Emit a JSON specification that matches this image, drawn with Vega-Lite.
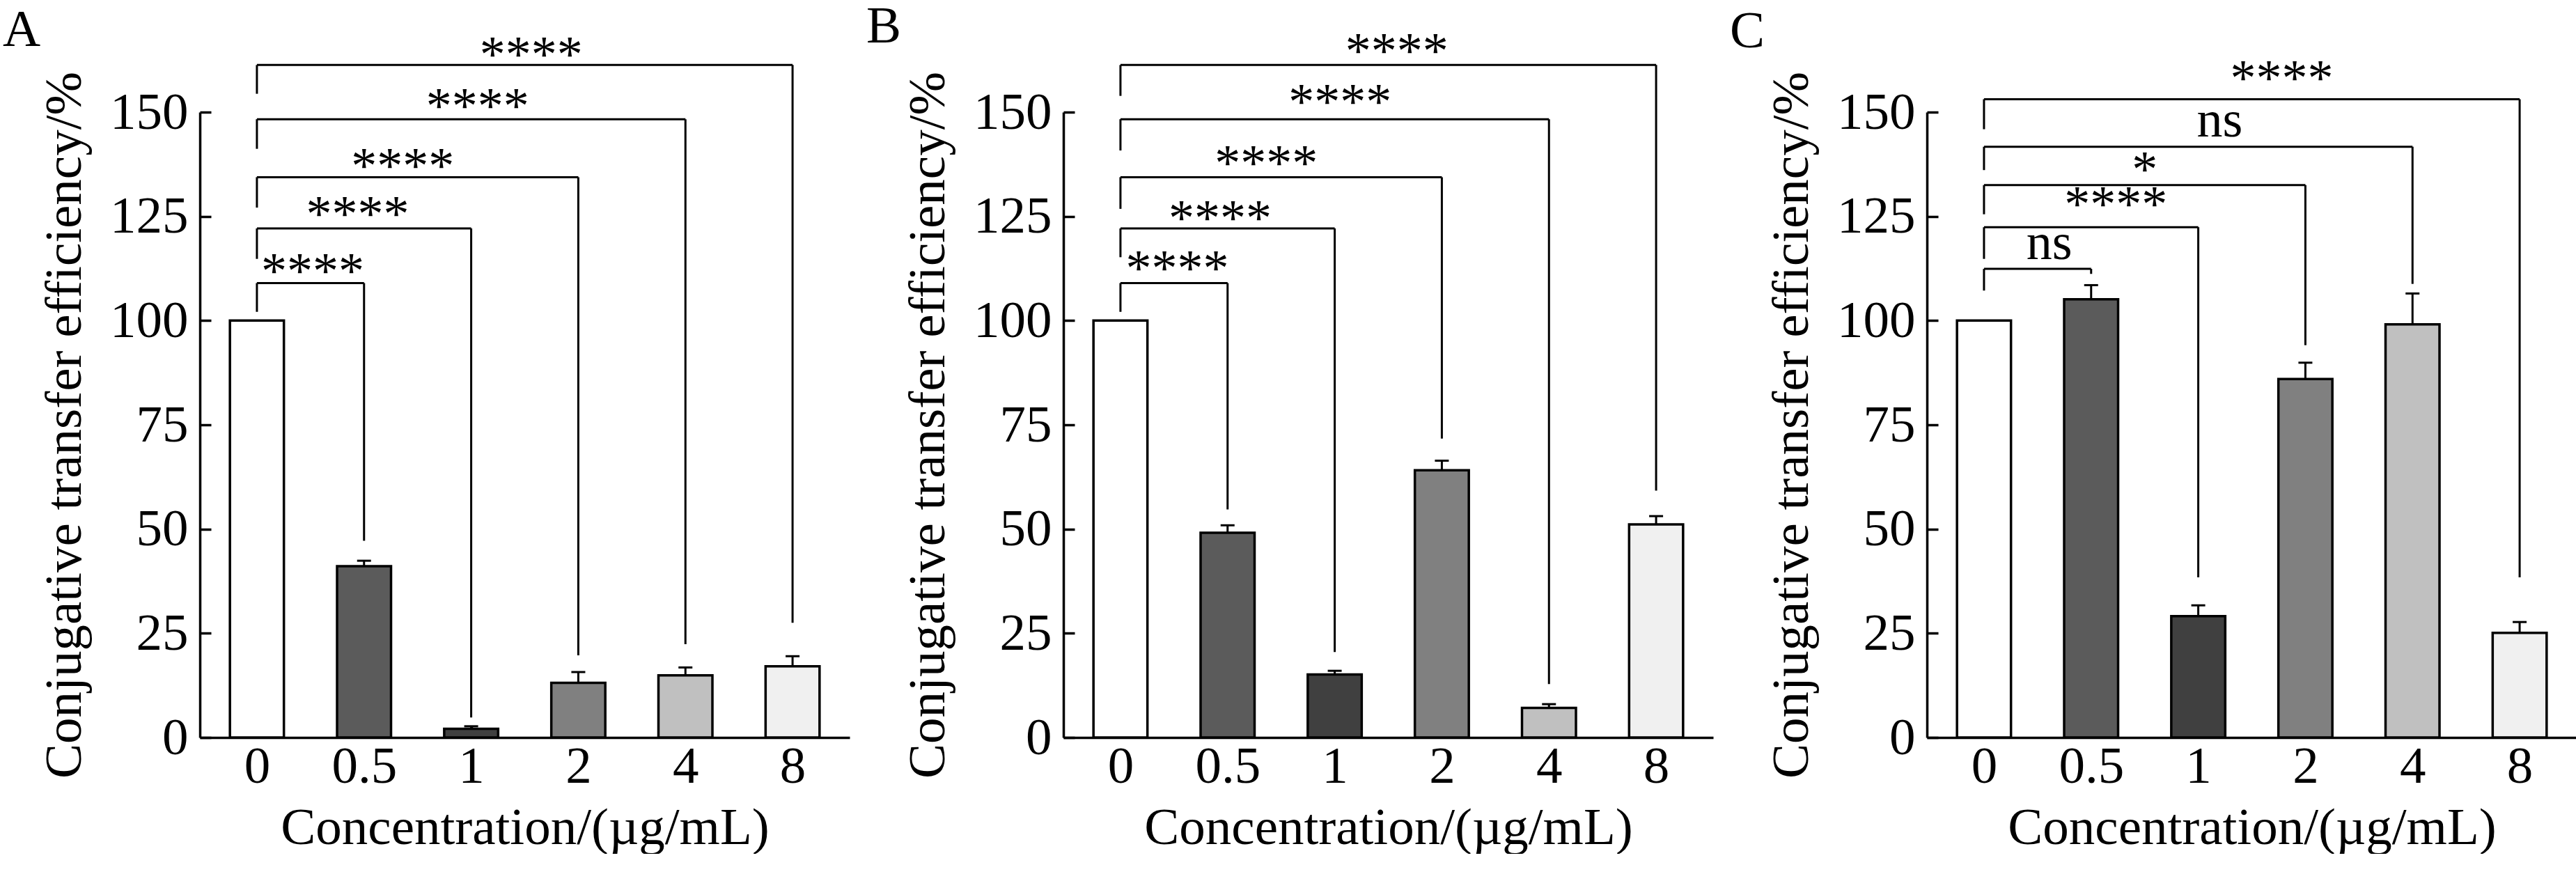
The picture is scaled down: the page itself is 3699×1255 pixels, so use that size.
{
  "$schema": "https://vega.github.io/schema/vega-lite/v6.json",
  "background": "white",
  "padding": {"left": 4, "top": 0, "right": 0, "bottom": 0},
  "spacing": 24,
  "datasets": {
    "barsA": [
      {"idx": 0, "conc": "0", "mean": 100, "upper": 100},
      {"idx": 1, "conc": "0.5", "mean": 41.1, "upper": 42.4},
      {"idx": 2, "conc": "1", "mean": 2.1, "upper": 2.7},
      {"idx": 3, "conc": "2", "mean": 13.1, "upper": 15.7},
      {"idx": 4, "conc": "4", "mean": 14.9, "upper": 16.8},
      {"idx": 5, "conc": "8", "mean": 17.1, "upper": 19.5}
    ],
    "barsB": [
      {"idx": 0, "conc": "0", "mean": 100, "upper": 100},
      {"idx": 1, "conc": "0.5", "mean": 49.1, "upper": 50.9},
      {"idx": 2, "conc": "1", "mean": 15.1, "upper": 16.0},
      {"idx": 3, "conc": "2", "mean": 64.1, "upper": 66.4},
      {"idx": 4, "conc": "4", "mean": 7.1, "upper": 8.0},
      {"idx": 5, "conc": "8", "mean": 51.1, "upper": 53.1}
    ],
    "barsC": [
      {"idx": 0, "conc": "0", "mean": 100, "upper": 100},
      {"idx": 1, "conc": "0.5", "mean": 105.1, "upper": 108.5},
      {"idx": 2, "conc": "1", "mean": 29.1, "upper": 31.7},
      {"idx": 3, "conc": "2", "mean": 86.0, "upper": 89.9},
      {"idx": 4, "conc": "4", "mean": 99.1, "upper": 106.5},
      {"idx": 5, "conc": "8", "mean": 25.1, "upper": 27.7}
    ],
    "brkA": [
      {"from": 0, "to": 1, "top": 109.0, "leftBot": 102.1, "rightBot": 47.2, "labelX": 0.52, "labelY": 107.7, "label": "****"},
      {"from": 0, "to": 2, "top": 122.1, "leftBot": 114.8, "rightBot": 4.8, "labelX": 0.94, "labelY": 121.4, "label": "****"},
      {"from": 0, "to": 3, "top": 134.4, "leftBot": 127.1, "rightBot": 19.7, "labelX": 1.36, "labelY": 133.0, "label": "****"},
      {"from": 0, "to": 4, "top": 148.3, "leftBot": 141.2, "rightBot": 22.4, "labelX": 2.06, "labelY": 147.3, "label": "****"},
      {"from": 0, "to": 5, "top": 161.3, "leftBot": 154.4, "rightBot": 27.5, "labelX": 2.56, "labelY": 159.7, "label": "****"}
    ],
    "brkB": [
      {"from": 0, "to": 1, "top": 109.0, "leftBot": 102.1, "rightBot": 54.7, "labelX": 0.53, "labelY": 108.4, "label": "****"},
      {"from": 0, "to": 2, "top": 122.1, "leftBot": 115.2, "rightBot": 20.5, "labelX": 0.93, "labelY": 120.4, "label": "****"},
      {"from": 0, "to": 3, "top": 134.4, "leftBot": 126.8, "rightBot": 71.7, "labelX": 1.36, "labelY": 133.7, "label": "****"},
      {"from": 0, "to": 4, "top": 148.3, "leftBot": 140.8, "rightBot": 12.8, "labelX": 2.05, "labelY": 148.4, "label": "****"},
      {"from": 0, "to": 5, "top": 161.3, "leftBot": 153.9, "rightBot": 59.2, "labelX": 2.58, "labelY": 160.6, "label": "****"}
    ],
    "brkC": [
      {"from": 0, "to": 1, "top": 112.4, "leftBot": 107.2, "rightBot": 111.2, "labelX": 0.61, "labelY": 114.7, "label": "ns"},
      {"from": 0, "to": 2, "top": 122.4, "leftBot": 114.8, "rightBot": 38.4, "labelX": 1.23, "labelY": 123.7, "label": "****"},
      {"from": 0, "to": 3, "top": 132.5, "leftBot": 125.5, "rightBot": 94.1, "labelX": 1.50, "labelY": 132.1, "label": "*"},
      {"from": 0, "to": 4, "top": 141.7, "leftBot": 136.1, "rightBot": 108.8, "labelX": 2.20, "labelY": 144.1, "label": "ns"},
      {"from": 0, "to": 5, "top": 153.1, "leftBot": 145.9, "rightBot": 38.4, "labelX": 2.78, "labelY": 154.0, "label": "****"}
    ]
  },
  "hconcat": [
    {
      "width": 933,
      "height": 898,
      "title": {"text": "A", "dx": -283, "offset": -38},
      "layer": [
        {
          "data": {"name": "barsA"},
          "mark": {"type": "bar", "width": 77.5, "stroke": "black", "strokeWidth": 3.5},
          "encoding": {
            "x": {"field": "idx", "type": "quantitative", "scale": {"domain": [-0.5, 5.5], "nice": false, "zero": false},
                  "axis": {"values": [0, 1, 2, 3, 4, 5], "labelExpr": "['0','0.5','1','2','4','8'][datum.value]", "title": "Concentration/(µg/mL)"}},
            "y": {"field": "mean", "type": "quantitative", "scale": {"domain": [0, 150], "nice": false},
                  "axis": {"values": [0, 25, 50, 75, 100, 125, 150], "title": "Conjugative transfer efficiency/%"}},
            "color": {"field": "conc", "type": "nominal", "legend": null,
                      "scale": {"domain": ["0", "0.5", "1", "2", "4", "8"], "range": ["#ffffff", "#5b5b5b", "#404040", "#808080", "#c0c0c0", "#f0f0f0"]}}
          }
        },
        {
          "data": {"name": "barsA"},
          "transform": [{"filter": "datum.upper > datum.mean"}],
          "mark": {"type": "rule", "color": "black", "strokeWidth": 3},
          "encoding": {
            "x": {"field": "idx", "type": "quantitative"},
            "y": {"field": "mean", "type": "quantitative"},
            "y2": {"field": "upper"}
          }
        },
        {
          "data": {"name": "barsA"},
          "transform": [{"filter": "datum.upper > datum.mean"}],
          "mark": {"type": "tick", "orient": "horizontal", "color": "black", "size": 20, "thickness": 3, "opacity": 1},
          "encoding": {
            "x": {"field": "idx", "type": "quantitative"},
            "y": {"field": "upper", "type": "quantitative"}
          }
        },
        {
          "data": {"name": "brkA"},
          "mark": {"type": "rule", "color": "black", "strokeWidth": 3},
          "encoding": {
            "x": {"field": "from", "type": "quantitative"},
            "x2": {"field": "to"},
            "y": {"field": "top", "type": "quantitative"}
          }
        },
        {
          "data": {"name": "brkA"},
          "mark": {"type": "rule", "color": "black", "strokeWidth": 3},
          "encoding": {
            "x": {"field": "from", "type": "quantitative"},
            "y": {"field": "leftBot", "type": "quantitative"},
            "y2": {"field": "top"}
          }
        },
        {
          "data": {"name": "brkA"},
          "mark": {"type": "rule", "color": "black", "strokeWidth": 3},
          "encoding": {
            "x": {"field": "to", "type": "quantitative"},
            "y": {"field": "rightBot", "type": "quantitative"},
            "y2": {"field": "top"}
          }
        },
        {
          "data": {"name": "brkA"},
          "mark": {"type": "text", "font": "Liberation Serif", "fontSize": 74, "color": "black", "baseline": "alphabetic", "align": "center"},
          "encoding": {
            "x": {"field": "labelX", "type": "quantitative"},
            "y": {"field": "labelY", "type": "quantitative"},
            "text": {"field": "label"}
          }
        }
      ]
    },
    {
      "width": 933,
      "height": 898,
      "title": {"text": "B", "dx": -283, "offset": -38},
      "layer": [
        {
          "data": {"name": "barsB"},
          "mark": {"type": "bar", "width": 77.5, "stroke": "black", "strokeWidth": 3.5},
          "encoding": {
            "x": {"field": "idx", "type": "quantitative", "scale": {"domain": [-0.5, 5.5], "nice": false, "zero": false},
                  "axis": {"values": [0, 1, 2, 3, 4, 5], "labelExpr": "['0','0.5','1','2','4','8'][datum.value]", "title": "Concentration/(µg/mL)"}},
            "y": {"field": "mean", "type": "quantitative", "scale": {"domain": [0, 150], "nice": false},
                  "axis": {"values": [0, 25, 50, 75, 100, 125, 150], "title": "Conjugative transfer efficiency/%"}},
            "color": {"field": "conc", "type": "nominal", "legend": null,
                      "scale": {"domain": ["0", "0.5", "1", "2", "4", "8"], "range": ["#ffffff", "#5b5b5b", "#404040", "#808080", "#c0c0c0", "#f0f0f0"]}}
          }
        },
        {
          "data": {"name": "barsB"},
          "transform": [{"filter": "datum.upper > datum.mean"}],
          "mark": {"type": "rule", "color": "black", "strokeWidth": 3},
          "encoding": {
            "x": {"field": "idx", "type": "quantitative"},
            "y": {"field": "mean", "type": "quantitative"},
            "y2": {"field": "upper"}
          }
        },
        {
          "data": {"name": "barsB"},
          "transform": [{"filter": "datum.upper > datum.mean"}],
          "mark": {"type": "tick", "orient": "horizontal", "color": "black", "size": 20, "thickness": 3, "opacity": 1},
          "encoding": {
            "x": {"field": "idx", "type": "quantitative"},
            "y": {"field": "upper", "type": "quantitative"}
          }
        },
        {
          "data": {"name": "brkB"},
          "mark": {"type": "rule", "color": "black", "strokeWidth": 3},
          "encoding": {
            "x": {"field": "from", "type": "quantitative"},
            "x2": {"field": "to"},
            "y": {"field": "top", "type": "quantitative"}
          }
        },
        {
          "data": {"name": "brkB"},
          "mark": {"type": "rule", "color": "black", "strokeWidth": 3},
          "encoding": {
            "x": {"field": "from", "type": "quantitative"},
            "y": {"field": "leftBot", "type": "quantitative"},
            "y2": {"field": "top"}
          }
        },
        {
          "data": {"name": "brkB"},
          "mark": {"type": "rule", "color": "black", "strokeWidth": 3},
          "encoding": {
            "x": {"field": "to", "type": "quantitative"},
            "y": {"field": "rightBot", "type": "quantitative"},
            "y2": {"field": "top"}
          }
        },
        {
          "data": {"name": "brkB"},
          "mark": {"type": "text", "font": "Liberation Serif", "fontSize": 74, "color": "black", "baseline": "alphabetic", "align": "center"},
          "encoding": {
            "x": {"field": "labelX", "type": "quantitative"},
            "y": {"field": "labelY", "type": "quantitative"},
            "text": {"field": "label"}
          }
        }
      ]
    },
    {
      "width": 933,
      "height": 898,
      "title": {"text": "C", "dx": -283, "offset": -6},
      "layer": [
        {
          "data": {"name": "barsC"},
          "mark": {"type": "bar", "width": 77.5, "stroke": "black", "strokeWidth": 3.5},
          "encoding": {
            "x": {"field": "idx", "type": "quantitative", "scale": {"domain": [-0.5, 5.5], "nice": false, "zero": false},
                  "axis": {"values": [0, 1, 2, 3, 4, 5], "labelExpr": "['0','0.5','1','2','4','8'][datum.value]", "title": "Concentration/(µg/mL)"}},
            "y": {"field": "mean", "type": "quantitative", "scale": {"domain": [0, 150], "nice": false},
                  "axis": {"values": [0, 25, 50, 75, 100, 125, 150], "title": "Conjugative transfer efficiency/%"}},
            "color": {"field": "conc", "type": "nominal", "legend": null,
                      "scale": {"domain": ["0", "0.5", "1", "2", "4", "8"], "range": ["#ffffff", "#5b5b5b", "#404040", "#808080", "#c0c0c0", "#f0f0f0"]}}
          }
        },
        {
          "data": {"name": "barsC"},
          "transform": [{"filter": "datum.upper > datum.mean"}],
          "mark": {"type": "rule", "color": "black", "strokeWidth": 3},
          "encoding": {
            "x": {"field": "idx", "type": "quantitative"},
            "y": {"field": "mean", "type": "quantitative"},
            "y2": {"field": "upper"}
          }
        },
        {
          "data": {"name": "barsC"},
          "transform": [{"filter": "datum.upper > datum.mean"}],
          "mark": {"type": "tick", "orient": "horizontal", "color": "black", "size": 20, "thickness": 3, "opacity": 1},
          "encoding": {
            "x": {"field": "idx", "type": "quantitative"},
            "y": {"field": "upper", "type": "quantitative"}
          }
        },
        {
          "data": {"name": "brkC"},
          "mark": {"type": "rule", "color": "black", "strokeWidth": 3},
          "encoding": {
            "x": {"field": "from", "type": "quantitative"},
            "x2": {"field": "to"},
            "y": {"field": "top", "type": "quantitative"}
          }
        },
        {
          "data": {"name": "brkC"},
          "mark": {"type": "rule", "color": "black", "strokeWidth": 3},
          "encoding": {
            "x": {"field": "from", "type": "quantitative"},
            "y": {"field": "leftBot", "type": "quantitative"},
            "y2": {"field": "top"}
          }
        },
        {
          "data": {"name": "brkC"},
          "mark": {"type": "rule", "color": "black", "strokeWidth": 3},
          "encoding": {
            "x": {"field": "to", "type": "quantitative"},
            "y": {"field": "rightBot", "type": "quantitative"},
            "y2": {"field": "top"}
          }
        },
        {
          "data": {"name": "brkC"},
          "mark": {"type": "text", "font": "Liberation Serif", "fontSize": 74, "color": "black", "baseline": "alphabetic", "align": "center"},
          "encoding": {
            "x": {"field": "labelX", "type": "quantitative"},
            "y": {"field": "labelY", "type": "quantitative"},
            "text": {"field": "label"}
          }
        }
      ]
    }
  ],
  "config": {
    "view": {"stroke": null},
    "title": {"font": "Liberation Serif", "fontSize": 75, "fontWeight": "normal", "color": "black", "anchor": "start", "frame": "group"},
    "axis": {
      "grid": false,
      "domainColor": "black",
      "domainWidth": 3.5,
      "tickColor": "black",
      "tickWidth": 3.5,
      "tickSize": -16,
      "labelColor": "black",
      "titleColor": "black",
      "labelFont": "Liberation Serif",
      "titleFont": "Liberation Serif",
      "labelFontSize": 75,
      "titleFontSize": 75,
      "titleFontWeight": "normal",
      "zindex": 1
    },
    "axisX": {"labelPadding": 21, "titlePadding": 14},
    "axisY": {"labelPadding": 33, "titlePadding": 26}
  }
}
